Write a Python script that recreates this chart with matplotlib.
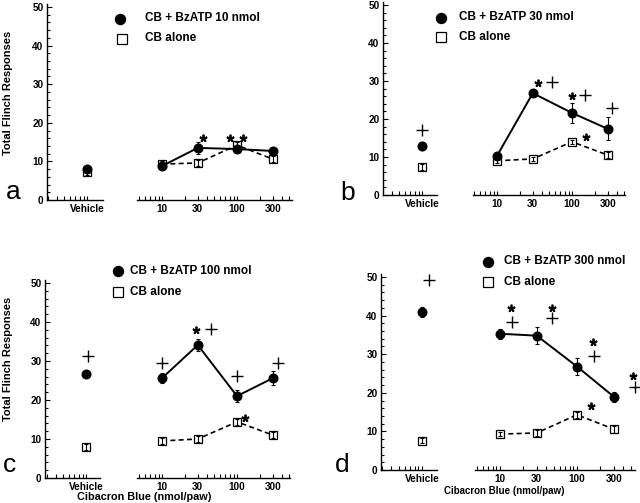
import matplotlib
matplotlib.use("Agg")
import matplotlib.pyplot as plt
from matplotlib.lines import Line2D
from matplotlib.ticker import FixedLocator, FixedFormatter, NullFormatter

# ---------------- data ----------------
doses = [10, 30, 100, 300]
dose_labels = ["10", "30", "100", "300"]
panel_letters = ["a", "b", "c", "d"]
bz_labels = ["CB + BzATP 10 nmol", "CB + BzATP 30 nmol",
             "CB + BzATP 100 nmol", "CB + BzATP 300 nmol"]
cb_label = "CB alone"
vehicle_label = "Vehicle"
y_label = "Total Flinch Responses"
x_label = "Cibacron Blue (nmol/paw)"

# CB + BzATP (filled circles): vehicle value and dose values per panel
bz_vehicle = [8.0, 12.9, 26.7, 41.0]
bz_vehicle_err = [0.8, 1.0, 0.7, 1.3]
bz_a = [8.8, 13.5, 13.2, 12.7]
bz_b = [10.3, 26.8, 21.6, 17.4]
bz_c = [25.6, 34.1, 21.0, 25.6]
bz_d = [35.3, 34.8, 26.8, 19.0]
bz_err_a = [0.7, 1.5, 0.8, 0.7]
bz_err_b = [0.6, 0.5, 2.6, 3.0]
bz_err_c = [1.3, 1.6, 1.6, 1.8]
bz_err_d = [1.3, 2.2, 2.3, 1.3]

# CB alone (open squares)
cb_vehicle = [7.3, 7.4, 7.9, 7.6]
cb_vehicle_err = [0.7, 0.7, 0.7, 0.7]
cb_a = [9.3, 9.6, 14.2, 10.6]
cb_b = [9.0, 9.5, 14.0, 10.5]
cb_c = [9.5, 10.0, 14.4, 11.0]
cb_d = [9.3, 9.6, 14.3, 10.6]
cb_err_a = [0.7, 0.8, 0.7, 0.8]
cb_err_b = [0.6, 0.6, 0.6, 0.8]
cb_err_c = [0.7, 0.7, 0.8, 0.8]
cb_err_d = [0.6, 0.7, 0.8, 0.9]

# significance marks (dose axis): x (nmol), y (flinches)
stars_a = [(35, 16.1), (80.7, 16.1), (120, 16.1)]
stars_b = [(35.2, 29.5), (100, 26.0), (154, 15.3)]
stars_c = [(28.4, 37.9), (128, 15.4)]
stars_d = [(13.9, 42.0), (47.3, 42.0), (161, 33.2), (533, 24.4), (150, 16.6)]
plus_a = []
plus_b = [(54.2, 29.7), (149, 26.3), (342, 22.9)]
plus_c = [(10, 29.5), (45, 38.2), (100, 26.2), (352, 29.5)]
plus_d = [(14.3, 38.3), (47.3, 39.4), (166, 29.5), (564, 21.5)]
# plus marks above the vehicle point (vehicle axis, vehicle at 10)
veh_plus_x = [None, 10.0, 10.6, 12.3]
veh_plus_y = [None, 17.1, 31.3, 49.2]

bz_all = [bz_a, bz_b, bz_c, bz_d]
bz_err_all = [bz_err_a, bz_err_b, bz_err_c, bz_err_d]
cb_all = [cb_a, cb_b, cb_c, cb_d]
cb_err_all = [cb_err_a, cb_err_b, cb_err_c, cb_err_d]
stars_all = [stars_a, stars_b, stars_c, stars_d]
plus_all = [plus_a, plus_b, plus_c, plus_d]

# ---------------- layout (pixels) ----------------
W, H = 640, 503
VEH = 10.0
# veh_x0, veh_pos, veh_x1, dose_x0, x10, decade, dose_x1, y0, ppu
layout = [
    (47, 87, 103, 137, 162, 75, 292, 200, 3.86),
    (383, 422, 437, 473, 497, 75, 625, 195, 3.80),
    (45, 86, 100, 137, 162, 75, 290, 478, 3.90),
    (381, 422, 437, 475, 500, 77, 635, 470, 3.86),
]
YTOP = 50.8
legend_pos = [  # circle xy, square xy, text x, line1 y, line2 y
    ((120, 19), (122, 39), 145, 18, 38),
    ((441, 18), (441, 37), 459, 17, 37),
    ((118, 271), (118, 292), 130, 271, 292),
    ((488, 262), (488, 282), 504, 261, 282),
]
letter_pos = [(13, 199), (348, 200), (9, 472), (342, 472)]

FONT = "Liberation Sans"
TICK_FS = 7.2
fig = plt.figure(figsize=(W / 100, H / 100), dpi=100)


def rect(x0, x1, ytop, ybot):
    return [x0 / W, 1 - ybot / H, (x1 - x0) / W, (ybot - ytop) / H]


def fx(x):
    return x / W


def fy(y):
    return 1 - y / H


tick_kw = dict(direction="in", width=0.8, color="black")

for i in range(4):
    vx0, vpos, vx1, dx0, x10, dec, dx1, y0, ppu = layout[i]
    ytop = y0 - YTOP * ppu
    axv = fig.add_axes(rect(vx0, vx1, ytop, y0))
    axd = fig.add_axes(rect(dx0, dx1, ytop, y0))
    for ax in (axv, axd):
        ax.set_xscale("log")
        ax.set_ylim(0, YTOP)
        ax.patch.set_alpha(0)
        for s in ("top", "right"):
            ax.spines[s].set_visible(False)
        ax.spines["bottom"].set_linewidth(1.0)
        ax.spines["left"].set_linewidth(1.0)
    axv.set_xlim(10 ** (1 - (vpos - vx0) / dec), 10 ** (1 + (vx1 - vpos) / dec))
    axd.set_xlim(10 ** (1 - (x10 - dx0) / dec), 10 ** (1 + (dx1 - x10) / dec))

    # vehicle axis ticks
    axv.xaxis.set_major_locator(FixedLocator([VEH]))
    axv.xaxis.set_major_formatter(FixedFormatter([vehicle_label]))
    axv.xaxis.set_minor_locator(FixedLocator([3, 4, 5, 6, 7, 8, 9]))
    axv.xaxis.set_minor_formatter(NullFormatter())
    axv.set_yticks([0, 10, 20, 30, 40, 50])
    axv.set_yticks([v for v in range(0, 51, 2) if v % 10], minor=True)
    axv.tick_params(axis="x", which="both", length=3, pad=3.0, **tick_kw)
    axv.tick_params(axis="y", which="major", length=3.5, pad=2.5, **tick_kw)
    axv.tick_params(axis="y", which="minor", length=2.5, **tick_kw)

    # dose axis ticks
    axd.spines["left"].set_visible(False)
    axd.set_yticks([])
    axd.xaxis.set_major_locator(FixedLocator(doses))
    axd.xaxis.set_major_formatter(FixedFormatter(dose_labels))
    axd.xaxis.set_minor_locator(FixedLocator([4, 5, 6, 7, 8, 9, 20, 40, 50, 60, 70,
                                              80, 90, 200, 400, 500]))
    axd.xaxis.set_minor_formatter(NullFormatter())
    axd.tick_params(axis="x", which="both", length=3, pad=3.0, **tick_kw)

    for ax in (axv, axd):
        for lab in ax.get_xticklabels() + ax.get_yticklabels():
            lab.set_fontfamily(FONT)
            lab.set_fontweight("bold")
            lab.set_fontsize(TICK_FS)

    # CB alone (open squares, dashed)
    sq = dict(marker="s", ms=5.5, mfc="white", mec="black", mew=0.9)
    axd.plot(doses, cb_all[i], color="black", lw=1.2, ls=(0, (3, 2)), zorder=2)
    axd.plot(doses, cb_all[i], ls="none", zorder=4, **sq)
    axd.errorbar(doses, cb_all[i], yerr=cb_err_all[i], fmt="none", ecolor="black",
                 elinewidth=0.8, capsize=1.5, capthick=0.8, zorder=5)
    axv.plot([VEH], [cb_vehicle[i]], ls="none", zorder=4, **sq)
    axv.errorbar([VEH], [cb_vehicle[i]], yerr=[cb_vehicle_err[i]], fmt="none",
                 ecolor="black", elinewidth=0.8, capsize=1.5, capthick=0.8, zorder=5)

    # CB + BzATP (filled circles, solid)
    axd.errorbar(doses, bz_all[i], yerr=bz_err_all[i], fmt="-o", color="black",
                 lw=1.4, ms=6.2, elinewidth=0.8, capsize=1.5, capthick=0.8, zorder=6)
    axv.errorbar([VEH], [bz_vehicle[i]], yerr=[bz_vehicle_err[i]], fmt="o",
                 color="black", ms=6.2, elinewidth=0.8, capsize=1.5, capthick=0.8,
                 zorder=6)

    # significance marks
    if stars_all[i]:
        sx, sy = zip(*stars_all[i])
        axd.plot(sx, sy, ls="none", marker=(5, 2, 0), ms=5.5, mew=1.3,
                 color="black", clip_on=False, zorder=7)
    if plus_all[i]:
        px, py = zip(*plus_all[i])
        axd.plot(px, py, ls="none", marker="+", ms=9, mew=1.0, color="black",
                 clip_on=False, zorder=7)
    if veh_plus_x[i] is not None:
        axv.plot([veh_plus_x[i]], [veh_plus_y[i]], ls="none", marker="+", ms=9,
                 mew=1.0, color="black", clip_on=False, zorder=7)

    # legend (figure coordinates)
    (cx, cy), (qx, qy), tx, l1, l2 = legend_pos[i]
    fig.add_artist(Line2D([fx(cx)], [fy(cy)], transform=fig.transFigure,
                          marker="o", ms=7.2, color="black", ls="none"))
    fig.add_artist(Line2D([fx(qx)], [fy(qy)], transform=fig.transFigure,
                          marker="s", ms=7, mfc="white", mec="black", mew=0.9,
                          ls="none"))
    fig.text(fx(tx), fy(l1), bz_labels[i], family=FONT, weight="bold",
             size=8.5, ha="left", va="center")
    fig.text(fx(tx), fy(l2), cb_label, family=FONT, weight="bold",
             size=8.5, ha="left", va="center")

    # panel letter
    lx, ly = letter_pos[i]
    fig.text(fx(lx), fy(ly), panel_letters[i], family=FONT, size=19,
             ha="center", va="baseline")

# axis titles
fig.text(fx(8), fy(93), y_label, family=FONT, weight="bold", size=8,
         rotation=90, ha="center", va="center")
fig.text(fx(8), fy(359), y_label, family=FONT, weight="bold", size=8,
         rotation=90, ha="center", va="center")
fig.text(fx(144), fy(497), x_label, family=FONT, weight="bold", size=7.8,
         ha="center", va="center")
fig.text(fx(504), fy(491), x_label, family=FONT, weight="bold", size=7,
         ha="center", va="center")

fig.savefig("out.png", dpi=100)
